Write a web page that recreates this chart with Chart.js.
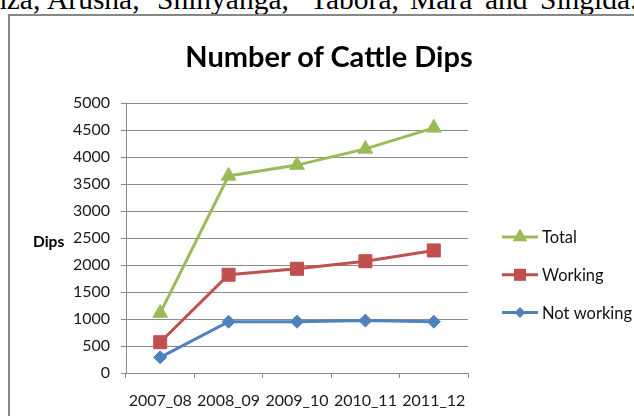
<!DOCTYPE html>
<html>
<head>
<meta charset="utf-8">
<script src="https://cdn.jsdelivr.net/npm/chart.js@4.4.1/dist/chart.umd.min.js"></script>
<style>
  html, body { margin: 0; padding: 0; background: #ffffff; }
  body { width: 634px; height: 416px; position: relative; overflow: hidden; }
  #frame { position: absolute; left: 8px; top: 14px; width: 700px; height: 500px; border: 2px solid #878787; box-sizing: border-box; }
  #chart { position: absolute; left: 0; top: 0; }
  .top-word { position: absolute; top: -15px; font-family: "Liberation Serif", "Times New Roman", serif; font-size: 29.5px; line-height: 29px; color: #000; white-space: nowrap; }
  #title { position: absolute; left: 0; width: 658px; top: 38px; text-align: center; font-family: Lato, Carlito, Calibri, sans-serif; font-weight: bold; font-size: 29px; line-height: 36px; color: #000; }
  #ytitle { position: absolute; left: 33px; top: 231px; font-family: Lato, Carlito, Calibri, sans-serif; font-weight: bold; font-size: 15.5px; line-height: 20px; color: #000; }
</style>
</head>
<body>
<div class="top-word" style="left:-8px">nza,</div>
<div class="top-word" style="left:47px">Arusha,</div>
<div class="top-word" style="left:157px">Shinyanga,</div>
<div class="top-word" style="left:310px">Tabora,</div>
<div class="top-word" style="left:410px">Mara</div>
<div class="top-word" style="left:485px">and</div>
<div class="top-word" style="left:540px">Singida.</div>
<div id="frame"></div>
<canvas id="chart" width="634" height="416"></canvas>
<div id="title">Number of Cattle Dips</div>
<div id="ytitle">Dips</div>
<script>
const categories = ["2007_08", "2008_09", "2009_10", "2010_11", "2011_12"];
const totalDips = [1110, 3650, 3850, 4150, 4540];
const workingDips = [570, 1820, 1930, 2070, 2270];
const notWorkingDips = [290, 950, 950, 970, 950];
const seriesNames = ["Total", "Working", "Not working"];
const yTicks = [0, 500, 1000, 1500, 2000, 2500, 3000, 3500, 4000, 4500, 5000];

const GREEN = "#9BBB59", RED = "#C0504D", BLUE = "#4F81BD", GRID = "#8a8a8a";
const FONT = "Lato, Carlito, Calibri, sans-serif";

function drawMarker(ctx, style, x, y, r, color) {
  ctx.save();
  ctx.fillStyle = color;
  ctx.beginPath();
  if (style === "triangle") {
    for (let k = 0; k < 3; k++) {
      const a = k * 2 * Math.PI / 3;
      const px = x + Math.sin(a) * r, py = y - Math.cos(a) * r;
      if (k === 0) ctx.moveTo(px, py); else ctx.lineTo(px, py);
    }
  } else if (style === "rect") {
    const s = Math.SQRT1_2 * r;
    ctx.rect(x - s, y - s, 2 * s, 2 * s);
  } else {
    ctx.moveTo(x - r, y); ctx.lineTo(x, y - r); ctx.lineTo(x + r, y); ctx.lineTo(x, y + r);
  }
  ctx.closePath();
  ctx.fill();
  ctx.restore();
}

const sideLegend = {
  id: "sideLegend",
  afterDraw(chart) {
    const ctx = chart.ctx;
    const area = chart.chartArea;
    const ds = chart.data.datasets;
    const x0 = area.right + 34;
    const startY = area.top + 134;
    const gap = 37.8;
    ds.forEach((d, i) => {
      const y = startY + i * gap;
      ctx.save();
      ctx.strokeStyle = d.borderColor;
      ctx.lineWidth = 3;
      ctx.beginPath();
      ctx.moveTo(x0, y);
      ctx.lineTo(x0 + 36, y);
      ctx.stroke();
      ctx.restore();
      drawMarker(ctx, d.pointStyle, x0 + 18, y, d.legendRadius, d.borderColor);
      ctx.save();
      ctx.fillStyle = "#111";
      ctx.font = "16.5px " + FONT;
      ctx.textBaseline = "middle";
      ctx.textAlign = "left";
      ctx.fillText(d.label, x0 + 40, y + 1);
      ctx.restore();
    });
  }
};

new Chart(document.getElementById("chart"), {
  type: "line",
  data: {
    labels: categories,
    datasets: [
      { label: seriesNames[0], data: totalDips, borderColor: GREEN, backgroundColor: GREEN,
        pointBackgroundColor: GREEN, pointBorderColor: GREEN, pointStyle: "triangle",
        pointRadius: 8.5, legendRadius: 8.5, borderWidth: 3, pointBorderWidth: 1, tension: 0 },
      { label: seriesNames[1], data: workingDips, borderColor: RED, backgroundColor: RED,
        pointBackgroundColor: RED, pointBorderColor: RED, pointStyle: "rect",
        pointRadius: 9.2, legendRadius: 8.5, borderWidth: 3, pointBorderWidth: 1, tension: 0 },
      { label: seriesNames[2], data: notWorkingDips, borderColor: BLUE, backgroundColor: BLUE,
        pointBackgroundColor: BLUE, pointBorderColor: BLUE, pointStyle: "rectRot",
        pointRadius: 6.5, legendRadius: 5.5, borderWidth: 3, pointBorderWidth: 1, tension: 0 }
    ]
  },
  options: {
    responsive: false,
    animation: false,
    devicePixelRatio: 1,
    layout: { padding: { left: 0, right: 166, top: 103, bottom: 0 } },
    plugins: { legend: { display: false }, title: { display: false }, tooltip: { enabled: false } },
    scales: {
      x: {
        offset: true,
        grid: { offset: true, drawOnChartArea: false, drawTicks: true, tickLength: 5, color: GRID, lineWidth: 1 },
        border: { display: true, color: GRID, width: 1 },
        ticks: { font: { family: FONT, size: 16 }, color: "#1a1a1a", padding: 13, maxRotation: 0, autoSkip: false },
        afterFit(s) { s.height = 43; }
      },
      y: {
        min: 0, max: 5000,
        afterBuildTicks(s) { s.ticks = yTicks.map(v => ({ value: v })); },
        grid: { color: GRID, lineWidth: 1, drawTicks: true, tickLength: 5 },
        border: { display: true, color: GRID, width: 1 },
        ticks: { font: { family: FONT, size: 16 }, color: "#1a1a1a", padding: 11,
                 callback: (v) => String(v) },
        afterFit(s) { s.width = 126; }
      }
    }
  },
  plugins: [sideLegend]
});
</script>
</body>
</html>
